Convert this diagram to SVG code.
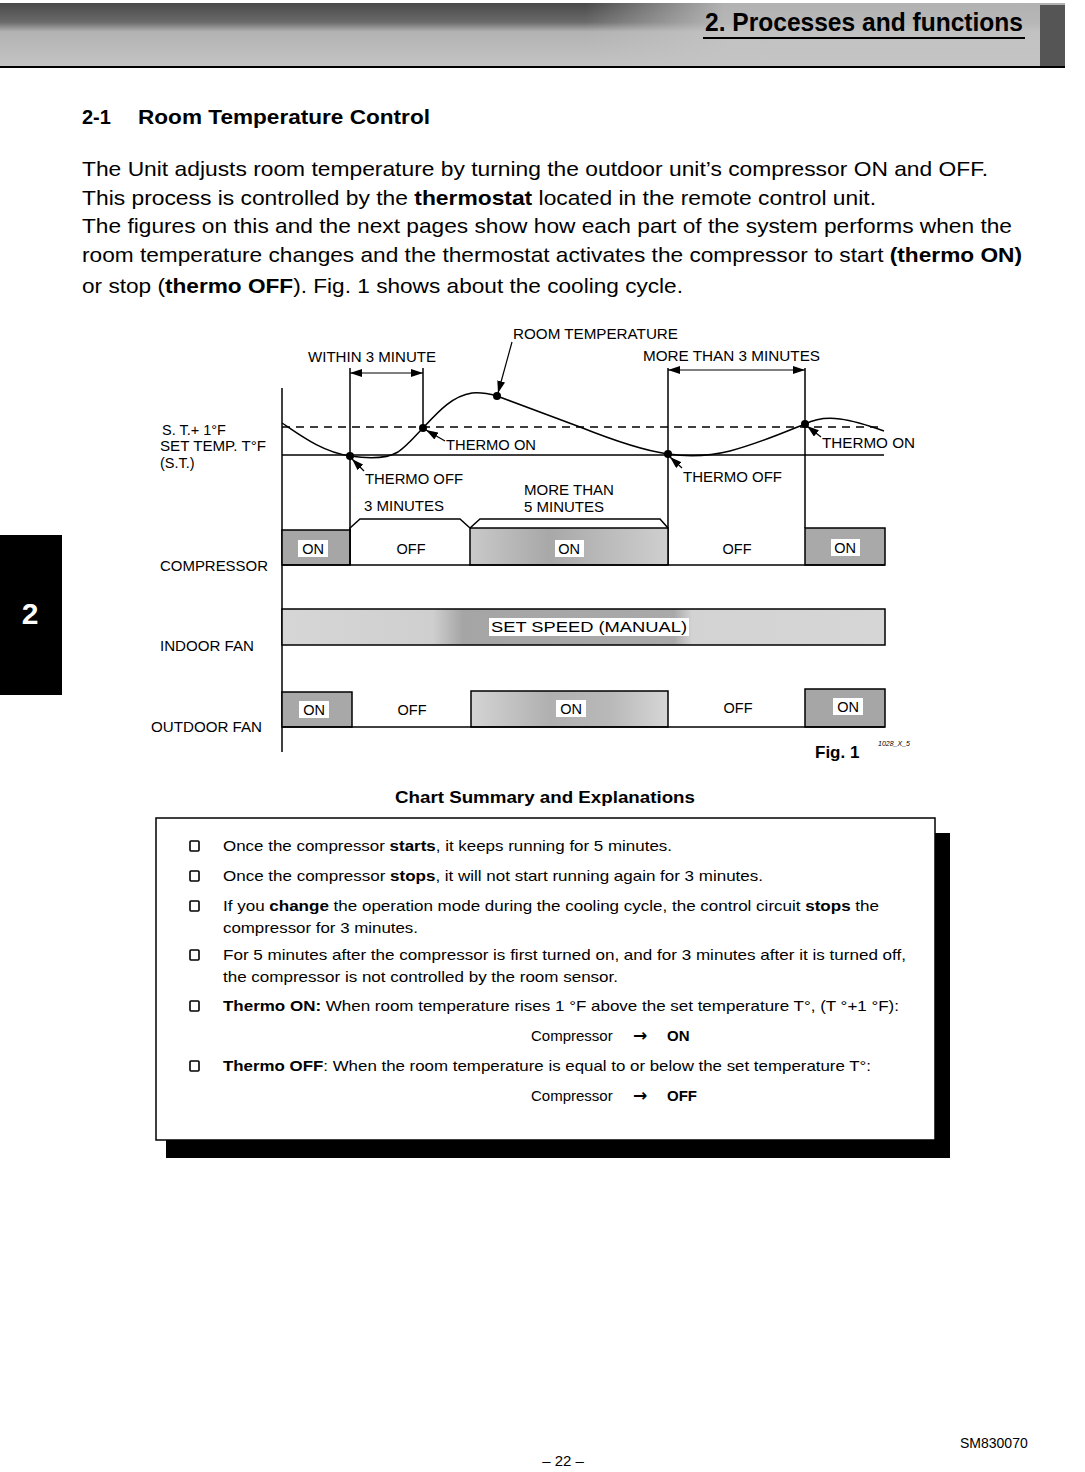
<svg xmlns="http://www.w3.org/2000/svg" width="1085" height="1472" viewBox="0 0 1085 1472">
<style>
  .t { font-family: "Liberation Sans", Arial, sans-serif; fill: #000; }
  .para { font-size: 21px; }
  .lab { font-size: 14.5px; }
  .sum { font-size: 15px; }
  .b { font-weight: bold; }
  .arw { font-family: "DejaVu Sans", sans-serif; font-size: 17px; font-weight: bold; }
  .ln { stroke: #000; stroke-width: 1.5; fill: none; }
  .thin { stroke: #000; stroke-width: 1.2; fill: none; }
  .bar { stroke: #000; stroke-width: 1.5; }
  .lblbox { fill: #fff; }
</style>
<defs>
  <marker id="ah" viewBox="0 0 12 8" refX="12" refY="4" markerWidth="12" markerHeight="8" markerUnits="userSpaceOnUse" orient="auto-start-reverse">
    <path d="M0,0 L12,4 L0,8 z" fill="#000"/>
  </marker>
  <linearGradient id="hdr" x1="0" y1="0" x2="0" y2="1">
    <stop offset="0" stop-color="#4a4a4a"/>
    <stop offset="0.3" stop-color="#6a6a6a"/>
    <stop offset="0.45" stop-color="#b2b2b2"/>
    <stop offset="1" stop-color="#c4c4c4"/>
  </linearGradient>
  <linearGradient id="hdrR" x1="0" y1="0" x2="1" y2="0">
    <stop offset="0" stop-color="#c4c4c4" stop-opacity="0"/>
    <stop offset="0.55" stop-color="#c4c4c4" stop-opacity="0"/>
    <stop offset="0.68" stop-color="#c4c4c4" stop-opacity="0.85"/>
    <stop offset="1" stop-color="#c4c4c4" stop-opacity="0.85"/>
  </linearGradient>
  <linearGradient id="on2" x1="0" y1="0" x2="1" y2="0">
    <stop offset="0" stop-color="#c9c9c9"/>
    <stop offset="0.4" stop-color="#a8a8a8"/>
    <stop offset="1" stop-color="#cfcfcf"/>
  </linearGradient>
  <linearGradient id="indoor" x1="0" y1="0" x2="1" y2="0">
    <stop offset="0" stop-color="#d6d6d6"/>
    <stop offset="0.25" stop-color="#cfcfcf"/>
    <stop offset="0.3" stop-color="#a5a5a5"/>
    <stop offset="0.65" stop-color="#a9a9a9"/>
    <stop offset="0.68" stop-color="#d3d3d3"/>
    <stop offset="1" stop-color="#d6d6d6"/>
  </linearGradient>
  <linearGradient id="out2" x1="0" y1="0" x2="1" y2="0">
    <stop offset="0" stop-color="#d4d4d4"/>
    <stop offset="0.4" stop-color="#b0b0b0"/>
    <stop offset="0.7" stop-color="#b8b8b8"/>
    <stop offset="1" stop-color="#d6d6d6"/>
  </linearGradient>
</defs>

<rect width="1085" height="1472" fill="#fff"/>

<g id="header">
  <rect x="0" y="3" width="1065" height="64" fill="url(#hdr)"/>
  <rect x="0" y="3" width="1065" height="64" fill="url(#hdrR)"/>
  <rect x="1040" y="5" width="25" height="62" fill="#555"/>
  <line x1="0" y1="67" x2="1065" y2="67" stroke="#000" stroke-width="2"/>
  <text class="t b" x="705" y="31" font-family="'Open Sans', 'Liberation Sans', sans-serif" font-size="26" textLength="318" lengthAdjust="spacingAndGlyphs">2. Processes and functions</text>
  <line x1="703" y1="38" x2="1025" y2="38" stroke="#000" stroke-width="2"/>
</g>

<g id="side-tab">
  <rect x="0" y="535" width="62" height="160" fill="#000"/>
  <text class="t b" x="30" y="624" font-size="30" style="fill:#fff" text-anchor="middle">2</text>
</g>

<g id="section-title">
  <text class="t b" x="82" y="124" font-size="20">2-1</text>
  <text class="t b" x="138" y="124" font-size="20" textLength="292" lengthAdjust="spacingAndGlyphs">Room Temperature Control</text>
</g>

<g id="intro">
  <text class="t para" x="82" y="176" textLength="906" lengthAdjust="spacingAndGlyphs">The Unit adjusts room temperature by turning the outdoor unit’s compressor ON and OFF.</text>
  <text class="t para" x="82" y="205" textLength="794" lengthAdjust="spacingAndGlyphs">This process is controlled by the <tspan class="b">thermostat</tspan> located in the remote control unit.</text>
  <text class="t para" x="82" y="233" textLength="930" lengthAdjust="spacingAndGlyphs">The figures on this and the next pages show how each part of the system performs when the</text>
  <text class="t para" x="82" y="262" textLength="940" lengthAdjust="spacingAndGlyphs">room temperature changes and the thermostat activates the compressor to start <tspan class="b">(thermo ON)</tspan></text>
  <text class="t para" x="82" y="293" textLength="601" lengthAdjust="spacingAndGlyphs">or stop (<tspan class="b">thermo OFF</tspan>). Fig. 1 shows about the cooling cycle.</text>
</g>

<g id="chart-axes">
  <line class="ln" x1="282" y1="388" x2="282" y2="752"/>
  <line x1="282" y1="427" x2="884" y2="427" stroke="#000" stroke-width="1.5" stroke-dasharray="8,6"/>
  <line class="ln" x1="282" y1="455" x2="884" y2="455"/>
  <line class="ln" x1="350" y1="368" x2="350" y2="565"/>
  <line class="ln" x1="423" y1="368" x2="423" y2="428"/>
  <line class="ln" x1="668" y1="368" x2="668" y2="565"/>
  <line class="ln" x1="805" y1="368" x2="805" y2="528"/>
</g>

<g id="room-temp-curve">
  <path class="ln" d="M282,423 C300,435 322,452 350,456 C370,459 388,458 398,452 C408,445 415,436 423,428 C438,412 452,396 472,393 C482,392 490,394 497,396 L580,427 C610,439 640,450 668,454 C690,457 710,456 730,451 C760,443 785,432 805,424 C815,419 826,417 840,419 C856,421 870,426 884,431"/>
  <circle cx="350" cy="456" r="4"/>
  <circle cx="423" cy="428" r="4"/>
  <circle cx="497" cy="396" r="4"/>
  <circle cx="668" cy="454" r="4"/>
  <circle cx="805" cy="424" r="4"/>
</g>

<g id="chart-labels">
  <text class="t lab" x="308" y="362" textLength="128" lengthAdjust="spacingAndGlyphs">WITHIN 3 MINUTE</text>
  <text class="t lab" x="513" y="339" textLength="165" lengthAdjust="spacingAndGlyphs">ROOM TEMPERATURE</text>
  <text class="t lab" x="643" y="361" textLength="177" lengthAdjust="spacingAndGlyphs">MORE THAN 3 MINUTES</text>
  <text class="t lab" x="162" y="435">S. T.+ 1°F</text>
  <text class="t lab" x="160" y="451" textLength="106" lengthAdjust="spacingAndGlyphs">SET TEMP. T°F</text>
  <text class="t lab" x="160" y="468">(S.T.)</text>
  <text class="t lab" x="446" y="450" textLength="90" lengthAdjust="spacingAndGlyphs">THERMO ON</text>
  <text class="t lab" x="365" y="484" textLength="98" lengthAdjust="spacingAndGlyphs">THERMO OFF</text>
  <text class="t lab" x="364" y="511" textLength="80" lengthAdjust="spacingAndGlyphs">3 MINUTES</text>
  <text class="t lab" x="524" y="495" textLength="90" lengthAdjust="spacingAndGlyphs">MORE THAN</text>
  <text class="t lab" x="524" y="512" textLength="80" lengthAdjust="spacingAndGlyphs">5 MINUTES</text>
  <text class="t lab" x="683" y="482" textLength="99" lengthAdjust="spacingAndGlyphs">THERMO OFF</text>
  <text class="t lab" x="822" y="448" textLength="93" lengthAdjust="spacingAndGlyphs">THERMO ON</text>
  <text class="t lab" x="160" y="571" textLength="108" lengthAdjust="spacingAndGlyphs">COMPRESSOR</text>
  <text class="t lab" x="160" y="651" textLength="94" lengthAdjust="spacingAndGlyphs">INDOOR FAN</text>
  <text class="t lab" x="151" y="732" textLength="111" lengthAdjust="spacingAndGlyphs">OUTDOOR FAN</text>
</g>

<g id="compressor-row">
  <rect class="bar" x="282" y="530" width="68" height="35" fill="#a6a6a6"/>
  <path class="ln" d="M350,565 L350,528 L360,519 L460,519 L470,528" fill="#fff"/>
  <rect class="bar" x="470" y="528" width="198" height="37" fill="url(#on2)"/>
  <path class="ln" d="M470,528 L480,519 L660,519 L668,528"/>
  <rect class="bar" x="805" y="528" width="80" height="37" fill="#a9a9a9"/>
  <line class="ln" x1="282" y1="565" x2="885" y2="565"/>
  <rect class="lblbox" x="298" y="540" width="30" height="17"/>
  <text class="t lab" x="313" y="554" text-anchor="middle">ON</text>
  <text class="t lab" x="411" y="554" text-anchor="middle">OFF</text>
  <rect class="lblbox" x="555" y="540" width="29" height="17"/>
  <text class="t lab" x="569" y="554" text-anchor="middle">ON</text>
  <text class="t lab" x="737" y="554" text-anchor="middle">OFF</text>
  <rect class="lblbox" x="831" y="539" width="29" height="17"/>
  <text class="t lab" x="845" y="553" text-anchor="middle">ON</text>
</g>

<g id="indoor-fan-row">
  <rect class="bar" x="282" y="609" width="603" height="36" fill="url(#indoor)"/>
  <rect class="lblbox" x="489" y="618" width="200" height="18"/>
  <text class="t lab" x="491" y="632" textLength="196" lengthAdjust="spacingAndGlyphs">SET  SPEED (MANUAL)</text>
</g>

<g id="outdoor-fan-row">
  <rect class="bar" x="282" y="692" width="70" height="35" fill="#a8a8a8"/>
  <rect class="bar" x="471" y="691" width="197" height="36" fill="url(#out2)"/>
  <rect class="bar" x="805" y="689" width="80" height="38" fill="#a6a6a6"/>
  <line class="ln" x1="282" y1="727" x2="885" y2="727"/>
  <rect class="lblbox" x="299" y="701" width="30" height="17"/>
  <text class="t lab" x="314" y="715" text-anchor="middle">ON</text>
  <text class="t lab" x="412" y="715" text-anchor="middle">OFF</text>
  <rect class="lblbox" x="556" y="700" width="30" height="17"/>
  <text class="t lab" x="571" y="714" text-anchor="middle">ON</text>
  <text class="t lab" x="738" y="713" text-anchor="middle">OFF</text>
  <rect class="lblbox" x="833" y="698" width="30" height="17"/>
  <text class="t lab" x="848" y="712" text-anchor="middle">ON</text>
</g>

<g id="connectors">
  <line class="thin" x1="350" y1="373" x2="423" y2="373" marker-start="url(#ah)" marker-end="url(#ah)"/>
  <line class="thin" x1="668" y1="370" x2="805" y2="370" marker-start="url(#ah)" marker-end="url(#ah)"/>
  <line class="thin" x1="512" y1="342" x2="498" y2="393" marker-end="url(#ah)"/>
  <line class="thin" x1="445" y1="441" x2="426" y2="430" marker-end="url(#ah)"/>
  <line class="thin" x1="364" y1="471" x2="352" y2="459" marker-end="url(#ah)"/>
  <line class="thin" x1="682" y1="468" x2="670" y2="457" marker-end="url(#ah)"/>
  <line class="thin" x1="821" y1="437" x2="807" y2="426" marker-end="url(#ah)"/>
</g>

<g id="fig-caption">
  <text class="t b" x="815" y="758" font-size="17">Fig. 1</text>
  <text class="t" x="878" y="746" font-size="7" font-style="italic">1028_X_5</text>
</g>

<g id="summary-title">
  <text class="t b" x="395" y="803" font-size="17" textLength="300" lengthAdjust="spacingAndGlyphs">Chart Summary and Explanations</text>
</g>

<g id="summary-box">
  <rect x="935" y="833" width="15" height="325" fill="#000"/>
  <rect x="166" y="1140" width="784" height="18" fill="#000"/>
  <rect x="156" y="818" width="779" height="322" fill="#fff" stroke="#000" stroke-width="1.5"/>
  <g fill="none" stroke="#000" stroke-width="1.6">
    <rect x="190" y="841" width="9" height="10" rx="1"/>
    <rect x="190" y="871" width="9" height="10" rx="1"/>
    <rect x="190" y="901" width="9" height="10" rx="1"/>
    <rect x="190" y="950" width="9" height="10" rx="1"/>
    <rect x="190" y="1001" width="9" height="10" rx="1"/>
    <rect x="190" y="1061" width="9" height="10" rx="1"/>
  </g>
  <text class="t sum" x="223" y="851" textLength="449" lengthAdjust="spacingAndGlyphs">Once the compressor <tspan class="b">starts</tspan>, it keeps running for 5 minutes.</text>
  <text class="t sum" x="223" y="881" textLength="540" lengthAdjust="spacingAndGlyphs">Once the compressor <tspan class="b">stops</tspan>, it will not start running again for 3 minutes.</text>
  <text class="t sum" x="223" y="911" textLength="656" lengthAdjust="spacingAndGlyphs">If you <tspan class="b">change</tspan> the operation mode during the cooling cycle, the control circuit <tspan class="b">stops</tspan> the</text>
  <text class="t sum" x="223" y="933" textLength="195" lengthAdjust="spacingAndGlyphs">compressor for 3 minutes.</text>
  <text class="t sum" x="223" y="960" textLength="683" lengthAdjust="spacingAndGlyphs">For 5 minutes after the compressor is first turned on, and for 3 minutes after it is turned off,</text>
  <text class="t sum" x="223" y="982" textLength="395" lengthAdjust="spacingAndGlyphs">the compressor is not controlled by the room sensor.</text>
  <text class="t sum" x="223" y="1011" textLength="676" lengthAdjust="spacingAndGlyphs"><tspan class="b">Thermo ON:</tspan> When room temperature rises 1 °F above the set temperature T°, (T °+1   °F):</text>
  <text class="t sum" x="531" y="1041">Compressor</text>
  <text class="t arw" x="633" y="1041">→</text>
  <text class="t sum b" x="667" y="1041">ON</text>
  <text class="t sum" x="223" y="1071" textLength="648" lengthAdjust="spacingAndGlyphs"><tspan class="b">Thermo OFF</tspan>: When the room temperature is equal to or below the set temperature T°:</text>
  <text class="t sum" x="531" y="1101">Compressor</text>
  <text class="t arw" x="633" y="1101">→</text>
  <text class="t sum b" x="667" y="1101">OFF</text>
</g>

<g id="footer">
  <text class="t" x="563" y="1466" font-size="15" text-anchor="middle">– 22 –</text>
  <text class="t" x="960" y="1448" font-size="14">SM830070</text>
</g>
</svg>
